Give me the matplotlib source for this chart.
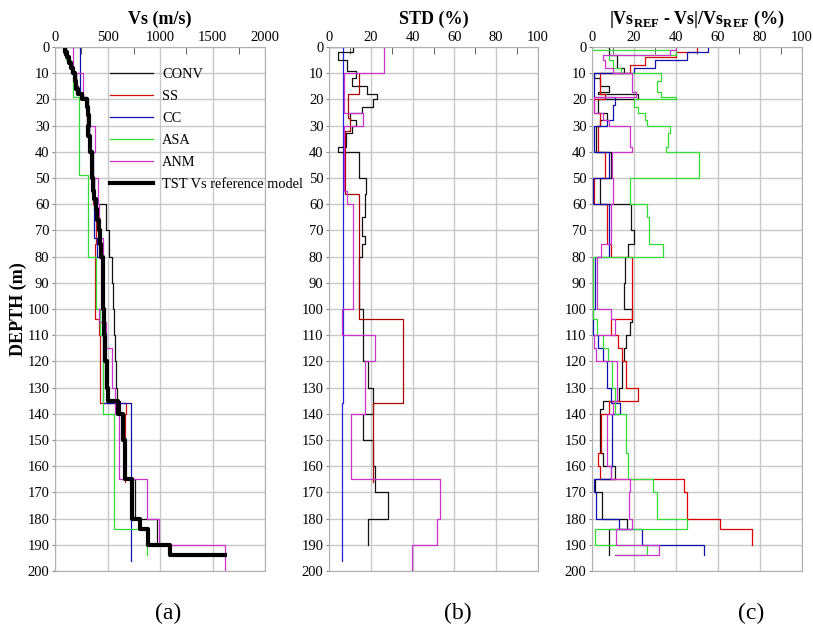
import matplotlib
matplotlib.use("Agg")
import matplotlib.pyplot as plt
from matplotlib.ticker import MultipleLocator

plt.rcParams["font.family"] = ["Liberation Serif", "DejaVu Serif"]
plt.rcParams["mathtext.fontset"] = "custom"
plt.rcParams["mathtext.rm"] = "Liberation Serif"
plt.rcParams["mathtext.bf"] = "Liberation Serif:bold"

# ---- (a) Vs profiles, m/s: layer tops (m), values, bottom depth ----
tst_top = [0, 2, 4, 6, 8, 10, 13, 16, 18, 20, 23, 26, 30, 34, 38, 40, 45, 50, 55, 58,
           62, 66, 70, 75, 80, 90, 100, 110, 120, 130, 135, 140, 150, 160, 165, 180,
           184, 190, 194]
tst_vs = [95, 110, 130, 150, 175, 190, 200, 215, 260, 300, 310, 320, 315, 330, 335, 350,
          355, 365, 375, 390, 400, 415, 425, 440, 455, 460, 470, 480, 495, 505, 600, 650,
          665, 670, 730, 810, 890, 1095, 1620]
tst_bot = 194

conv_top = [0, 3, 6, 10, 15, 18, 20, 25, 30, 40, 50, 60, 70, 80, 90, 100, 110, 120, 130,
            135, 140, 150, 165, 180, 190]
conv_vs = [90, 120, 160, 200, 220, 270, 310, 320, 325, 345, 370, 490, 510, 540, 550, 562,
           570, 580, 590, 620, 660, 670, 762, 975, 1095]
conv_bot = 192

ss_top = [0, 5, 10, 18, 20, 30, 40, 50, 60, 75, 104, 110, 136, 140, 150]
ss_vs = [100, 150, 200, 270, 305, 320, 345, 365, 395, 385, 420, 428, 680, 665, 670]
ss_bot = 166

cc_top = [0, 0, 19, 25, 30, 40, 50, 60, 73, 80, 100, 120, 136]
cc_vs = [0, 238, 300, 315, 325, 365, 370, 374, 400, 450, 460, 460, 720]
cc_bot = 196

asa_top = [0, 5, 10, 19, 49, 80, 100, 110, 140, 184]
asa_vs = [100, 150, 168, 229, 317, 390, 430, 454, 565, 873]
asa_bot = 194

anm_top = [0, 10, 19, 30, 40, 50, 60, 73, 80, 100, 105, 115, 130, 140, 165, 180, 190]
anm_vs = [170, 270, 300, 380, 360, 410, 420, 460, 450, 420, 490, 540, 570, 610, 880, 990, 1620]
anm_bot = 200

# ---- (b) STD, % ----
cc_std_top = [0, 0, 136]
cc_std = [0, 6.9, 6.2]
cc_std_bot = 196

conv_std_top = [0, 2, 5, 9, 12, 15, 18, 20, 23, 25, 28, 30, 33, 38, 40, 50, 56, 65, 72, 75,
                80, 100, 120, 130, 140, 150, 160, 170, 180]
conv_std = [11.5, 4.5, 8.5, 13, 11, 18, 22.8, 21, 16, 10, 13, 11, 8, 4.5, 14.5, 17.7, 17,
            16, 17, 16, 14.5, 16.4, 18.5, 21, 16.4, 21, 22, 28, 18.5]
conv_std_bot = 190

ss_std_top = [10, 18, 27, 32, 56, 104, 136]
ss_std = [14.5, 9, 10, 7.5, 14.5, 35.2, 21]
ss_std_bot = 166

anm_std_top = [0, 10, 25, 30, 55, 60, 100, 110, 120, 140, 165, 180, 190]
anm_std = [26.5, 7.2, 16.4, 7, 8.5, 11.6, 6.4, 22, 17.2, 10.5, 53, 51.5, 39.7]
anm_std_bot = 200

# ---- (c) |VsREF - Vs| / VsREF, % ----
conv_err_top = [0, 3, 8, 10, 12, 15, 17, 18, 20, 25, 28, 30, 40, 50, 60, 70, 75, 80, 90,
                100, 105, 110, 115, 120, 130, 135, 138, 155, 160, 165, 170, 180, 184]
conv_err = [8, 12, 15, 1, 4, 8, 3, 22, 3, 7, 4, 2, 9, 4, 18.6, 20, 17, 15.5, 15, 19, 18,
            16, 15, 14.5, 13, 5.4, 4, 5, 11, 1.5, 4.9, 16.5, 8.3]
conv_err_bot = 194

ss_err_top = [0, 2, 4, 7, 10, 18, 20, 25, 30, 40, 50, 60, 75, 80, 104, 110, 115, 120, 130,
              135, 140, 155, 160, 165, 170, 180, 184]
ss_err = [50, 40, 25, 18, 4, 6, 1, 4, 3, 6, 1, 7, 9, 19, 9, 12.6, 14.5, 16, 21.7, 8, 4.3,
          3, 4, 43.8, 45, 61, 76]
ss_err_bot = 190

cc_err_top = [0, 2, 5, 8, 10, 19, 22, 28, 30, 40, 50, 60, 80, 100, 110, 115, 120, 130, 136,
              140, 160, 165, 170, 180, 184, 190]
cc_err = [55, 45, 30, 20, 1, 11, 10, 7, 1, 8, 0.5, 8, 1.5, 0.5, 3, 5, 7, 9, 13.3, 9.5, 9,
          0.9, 2, 13, 23.8, 53.4]
cc_err_bot = 194

asa_err_top = [0, 1, 3, 5, 8, 10, 13, 17, 19, 20, 23, 25, 28, 30, 33, 38, 40, 50, 60, 65,
               75, 80, 104, 110, 115, 120, 130, 140, 155, 165, 170, 180, 184, 190, 194]
asa_err = [0, 40, 8, 10, 14, 33, 31, 33, 40, 20, 22, 25, 26, 37, 36, 35, 51, 18, 26, 27,
           34, 0.6, 2.2, 5.2, 7.6, 9.4, 11, 16, 17, 29, 30.8, 45, 1.5, 26, 11]
asa_err_bot = 194

anm_err_top = [0, 1, 3, 5, 8, 10, 17, 19, 25, 28, 30, 38, 40, 50, 60, 75, 80, 100, 104,
               110, 115, 120, 130, 135, 140, 160, 165, 170, 180, 184, 190, 194]
anm_err = [40, 37, 5, 6, 10, 19, 21, 1, 5, 8, 18, 19, 9.5, 10, 9, 4.3, 2.4, 9, 11, 1, 2,
           12, 12, 10, 7.3, 9, 18, 17.5, 19, 11.4, 32, 11]
anm_err_bot = 194

C_CONV = "#111111"
C_SS = "#cc1111"
C_CC = "#1010b0"
C_ASA = "#33dd33"
C_ANM = "#cc33cc"


def profile(tops, vals, bottom):
    """Turn layer tops/values into a stepped depth profile."""
    bots = list(tops[1:]) + [bottom]
    xs, ys = [], []
    for t, b, v in zip(tops, bots, vals):
        xs += [v, v]
        ys += [t, b]
    return xs, ys


def style_axis(ax, xmax, xmajor, xminor):
    ax.set_xlim(0, xmax)
    ax.set_ylim(200, 0)
    ax.xaxis.set_major_locator(MultipleLocator(xmajor))
    ax.xaxis.set_minor_locator(MultipleLocator(xminor))
    ax.yaxis.set_major_locator(MultipleLocator(10))
    ax.xaxis.tick_top()
    ax.grid(True, which="major", color="#c8c8c8", lw=1.0)
    ax.set_axisbelow(True)
    for s in ax.spines.values():
        s.set_color("#b0b0b0")
    ax.tick_params(axis="x", which="major", length=0, pad=2, labelsize=10.5)
    ax.tick_params(axis="x", which="minor", direction="in", length=5, color="#444444")
    ax.tick_params(axis="y", length=2, color="#888888", pad=2, labelsize=10.5)


fig = plt.figure(figsize=(8.13, 6.27), dpi=100)
ax_a = fig.add_axes([55 / 813, 1 - 571 / 627, 210 / 813, 524 / 627])
ax_b = fig.add_axes([329 / 813, 1 - 571 / 627, 209 / 813, 524 / 627])
ax_c = fig.add_axes([592 / 813, 1 - 571 / 627, 210 / 813, 524 / 627])

# (a)
ax_a.plot(*profile(conv_top, conv_vs, conv_bot), color=C_CONV, lw=0.9, label="CONV")
ax_a.plot(*profile(ss_top, ss_vs, ss_bot), color=C_SS, lw=0.9, label="SS")
ax_a.plot(*profile(cc_top, cc_vs, cc_bot), color=C_CC, lw=0.9, label="CC")
ax_a.plot(*profile(asa_top, asa_vs, asa_bot), color=C_ASA, lw=0.9, label="ASA")
ax_a.plot(*profile(anm_top, anm_vs, anm_bot), color=C_ANM, lw=0.9, label="ANM")
ax_a.plot(*profile(tst_top, tst_vs, tst_bot), color="black", lw=3.0,
          label="TST Vs reference model")
style_axis(ax_a, 2000, 500, 250)
leg = ax_a.legend(loc="upper left", bbox_to_anchor=((110 - 55) / 210, 1 - (68 - 47) / 524),
                  frameon=False, fontsize=10.4, handlelength=3.0, handletextpad=0.6,
                  labelspacing=0.62, borderpad=0, borderaxespad=0)
leg.set_clip_on(False)

# (b)
ax_b.plot(*profile(cc_std_top, cc_std, cc_std_bot), color="#2020dd", lw=0.9)
ax_b.plot(*profile(conv_std_top, conv_std, conv_std_bot), color=C_CONV, lw=0.9)
ax_b.plot(*profile(ss_std_top, ss_std, ss_std_bot), color="#aa0000", lw=0.9)
ax_b.plot(*profile(anm_std_top, anm_std, anm_std_bot), color=C_ANM, lw=0.9)
style_axis(ax_b, 100, 20, 10)

# (c)
ax_c.plot(*profile(conv_err_top, conv_err, conv_err_bot), color=C_CONV, lw=0.9)
ax_c.plot(*profile(ss_err_top, ss_err, ss_err_bot), color="#dd0000", lw=0.9)
ax_c.plot(*profile(cc_err_top, cc_err, cc_err_bot), color=C_CC, lw=0.9)
ax_c.plot(*profile(asa_err_top, asa_err, asa_err_bot), color=C_ASA, lw=0.9)
ax_c.plot(*profile(anm_err_top, anm_err, anm_err_bot), color=C_ANM, lw=0.9)
style_axis(ax_c, 100, 20, 10)

title_y = 1 + (47 - 19) / 524
ax_a.text(0.5, title_y, "Vs (m/s)", transform=ax_a.transAxes, ha="center", va="center",
          fontsize=13, fontweight="bold")
ax_b.text(0.5, title_y, "STD (%)", transform=ax_b.transAxes, ha="center", va="center",
          fontsize=13, fontweight="bold")
ax_c.text(0.5, title_y, r"|Vs$_{\mathbf{REF}}$ - Vs|/Vs$_{\mathbf{REF}}$ (%)",
          transform=ax_c.transAxes, ha="center", va="center", fontsize=13, fontweight="bold")

fig.text(18 / 813, 1 - 309 / 627, "DEPTH (m)", rotation=90, ha="center", va="center",
         fontsize=13, fontweight="bold")

for lab, xp in [("(a)", 168), ("(b)", 458), ("(c)", 751)]:
    fig.text(xp / 813, 1 - 613 / 627, lab, ha="center", va="center", fontsize=17)

fig.savefig("out.png", dpi=100)
